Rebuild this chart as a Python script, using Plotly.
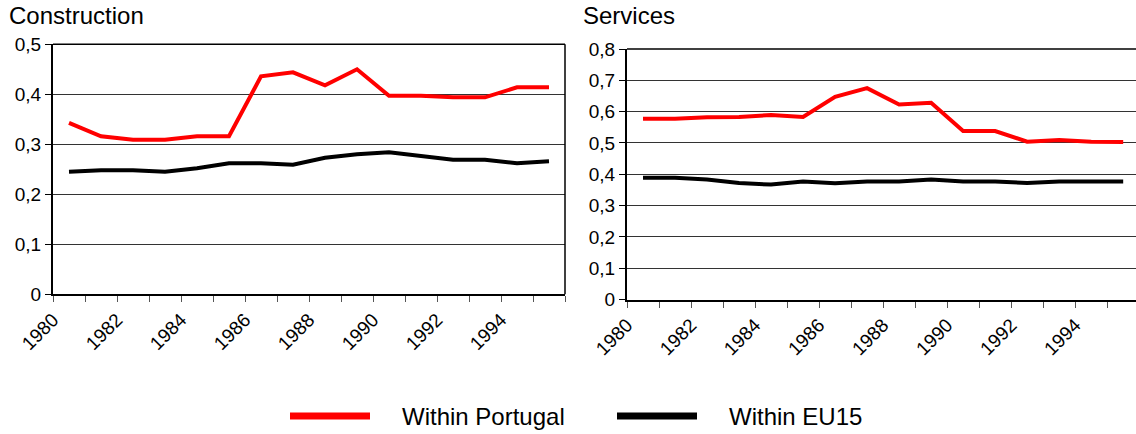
import plotly.graph_objects as go

years = list(range(1980, 1996))
year_labels = [str(y) for y in years[::2]]

constr_portugal = [0.343, 0.316, 0.309, 0.309, 0.316, 0.316, 0.436, 0.444,
                   0.418, 0.450, 0.397, 0.397, 0.394, 0.394, 0.414, 0.414]
constr_eu15 = [0.245, 0.248, 0.248, 0.245, 0.252, 0.262, 0.262, 0.259,
               0.273, 0.280, 0.284, 0.276, 0.269, 0.269, 0.262, 0.266]

serv_portugal = [0.577, 0.577, 0.582, 0.583, 0.589, 0.583, 0.647, 0.675,
                 0.623, 0.628, 0.538, 0.538, 0.504, 0.509, 0.504, 0.503]
serv_eu15 = [0.389, 0.389, 0.383, 0.372, 0.367, 0.377, 0.371, 0.377,
             0.377, 0.383, 0.377, 0.377, 0.372, 0.377, 0.377, 0.377]

constr_ticks = [0, 0.1, 0.2, 0.3, 0.4, 0.5]
serv_ticks = [0, 0.1, 0.2, 0.3, 0.4, 0.5, 0.6, 0.7, 0.8]

panel_titles = ["Construction", "Services"]
series_names = ["Within Portugal", "Within EU15"]
series_colors = ["#ff0000", "#000000"]

W, H = 1136, 434
FONT = "Liberation Sans, Arial, sans-serif"


def px_x(p):
    return p / W


def px_y(p):
    return 1 - p / H


def fmt(v):
    return ("%g" % v).replace(".", ",")


fig = go.Figure()

# data traces
for xa, ya, pt, eu in [("x", "y", constr_portugal, constr_eu15),
                       ("x2", "y2", serv_portugal, serv_eu15)]:
    fig.add_trace(go.Scatter(x=years, y=eu, mode="lines", xaxis=xa, yaxis=ya,
                             line=dict(color=series_colors[1], width=4),
                             name=series_names[1], showlegend=False))
    fig.add_trace(go.Scatter(x=years, y=pt, mode="lines", xaxis=xa, yaxis=ya,
                             line=dict(color=series_colors[0], width=4),
                             name=series_names[0], showlegend=False))

# invisible carriers so the label axes are drawn
for xa, ya in [("x3", "y"), ("x4", "y2")]:
    fig.add_trace(go.Scatter(x=[years[0]], y=[None], mode="lines", xaxis=xa, yaxis=ya,
                             showlegend=False, hoverinfo="skip"))

boundaries = [y - 0.5 for y in years] + [years[-1] + 0.5]
LABEL_SHIFT = 0.5  # year labels sit left of their category centre, as in the reference

common_x = dict(tickmode="array", tickvals=boundaries,
                ticktext=["" for _ in boundaries], ticks="outside", ticklen=6,
                tickcolor="#555", tickwidth=1, showline=True, linewidth=2,
                linecolor="black", showgrid=False, zeroline=False, automargin=False)
label_x = dict(tickmode="array", tickvals=years[::2], ticktext=year_labels,
               tickangle=-45, ticks="outside", ticklen=6, tickcolor="rgba(0,0,0,0)",
               showline=False, showgrid=False,
               zeroline=False, side="bottom", automargin=False,
               tickfont=dict(family=FONT, size=19, color="black"))
common_y = dict(tickmode="array", ticks="outside", ticklen=6, tickcolor="black",
                showline=True, linewidth=2, linecolor="black", showgrid=True,
                gridcolor="#333", gridwidth=1, zeroline=False, automargin=False,
                tickfont=dict(family=FONT, size=19, color="black"))

left_dom_x = [px_x(53), px_x(565)]
left_dom_y = [px_y(294.3), px_y(44.3)]
right_dom_x = [px_x(627), 1.0]
right_dom_y = [px_y(299.5), px_y(49)]
left_range = [1979.5, 1995.5]
right_range = [1979.5, 1995.4]

fig.update_layout(
    template="none",
    width=W, height=H, autosize=False,
    margin=dict(l=0, r=0, t=0, b=0, pad=0, autoexpand=False),
    paper_bgcolor="white", plot_bgcolor="white",
    showlegend=False,
    xaxis=dict(domain=left_dom_x, anchor="y", range=left_range, **common_x),
    yaxis=dict(domain=left_dom_y, anchor="x", range=[0, 0.5],
               tickvals=constr_ticks, ticktext=[fmt(v) for v in constr_ticks], **common_y),
    xaxis2=dict(domain=right_dom_x, anchor="y2", range=right_range, **common_x),
    yaxis2=dict(domain=right_dom_y, anchor="x2", range=[0, 0.8],
                tickvals=serv_ticks, ticktext=[fmt(v) for v in serv_ticks], **common_y),
    xaxis3=dict(overlaying="x", anchor="y",
                range=[r + LABEL_SHIFT for r in left_range], **label_x),
    xaxis4=dict(overlaying="x2", anchor="y2",
                range=[r + LABEL_SHIFT for r in right_range], **label_x),
)

# frame borders (top & right)
shapes = [
    dict(type="line", xref="x domain", yref="y domain", x0=0, x1=1, y0=1, y1=1,
         line=dict(color="black", width=1.5)),
    dict(type="line", xref="x domain", yref="y domain", x0=1, x1=1, y0=0, y1=1,
         line=dict(color="black", width=1.5)),
    dict(type="line", xref="x2 domain", yref="y2 domain", x0=0, x1=1, y0=1, y1=1,
         line=dict(color="black", width=1.5)),
]

# custom legend
leg_y = px_y(416)
shapes += [
    dict(type="line", xref="paper", yref="paper", x0=px_x(290), x1=px_x(370),
         y0=leg_y, y1=leg_y, line=dict(color=series_colors[0], width=7)),
    dict(type="line", xref="paper", yref="paper", x0=px_x(617), x1=px_x(697),
         y0=leg_y, y1=leg_y, line=dict(color=series_colors[1], width=7)),
]
fig.update_layout(shapes=shapes)

annotations = [
    dict(text=panel_titles[0], xref="paper", yref="paper", x=px_x(7), y=px_y(15.5),
         xanchor="left", yanchor="middle", showarrow=False,
         font=dict(family=FONT, size=24, color="black")),
    dict(text=panel_titles[1], xref="paper", yref="paper", x=px_x(581), y=px_y(15.5),
         xanchor="left", yanchor="middle", showarrow=False,
         font=dict(family=FONT, size=24, color="black")),
    dict(text=series_names[0], xref="paper", yref="paper", x=px_x(400), y=px_y(416.5),
         xanchor="left", yanchor="middle", showarrow=False,
         font=dict(family=FONT, size=24, color="black")),
    dict(text=series_names[1], xref="paper", yref="paper", x=px_x(727), y=px_y(416.5),
         xanchor="left", yanchor="middle", showarrow=False,
         font=dict(family=FONT, size=24, color="black")),
]
fig.update_layout(annotations=annotations)

fig.write_html("out.html", config={"displayModeBar": False},
               post_script="document.body.style.margin='0';")
